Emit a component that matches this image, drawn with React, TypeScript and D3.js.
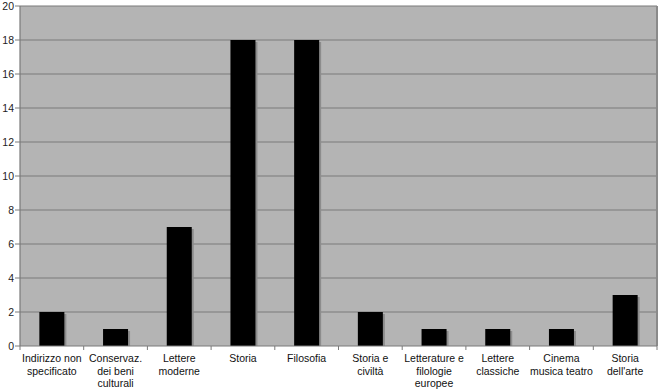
import React from "react";
import * as d3 from "d3";

const categories = [
  ["Indirizzo non", "specificato"],
  ["Conservaz.", "dei beni", "culturali"],
  ["Lettere", "moderne"],
  ["Storia"],
  ["Filosofia"],
  ["Storia e", "civiltà"],
  ["Letterature e", "filologie", "europee"],
  ["Lettere", "classiche"],
  ["Cinema", "musica teatro"],
  ["Storia", "dell'arte"],
];
const values = [2, 1, 7, 18, 18, 2, 1, 1, 1, 3];
const yTicks = [0, 2, 4, 6, 8, 10, 12, 14, 16, 18, 20];

const W = 659;
const H = 390;
const left = 20;
const right = 657;
const top = 6;
const bottom = 346;

export default function App() {
  const x = d3
    .scaleBand<number>()
    .domain(d3.range(values.length))
    .range([left, right])
    .paddingInner(0)
    .paddingOuter(0);
  const y = d3.scaleLinear().domain([0, 20]).range([bottom, top]);
  const bw = 25;
  const font = "'Liberation Sans', Arial, sans-serif";
  return (
    <svg
      width={W}
      height={H}
      style={{ position: "absolute", left: 0, top: 0, background: "#fff" }}
      fontFamily={font}
    >
      <rect x={left} y={top} width={right - left} height={bottom - top} fill="#b4b4b4" />
      {yTicks.map((t) => (
        <g key={t}>
          {t > 0 && (
            <line x1={left} x2={right} y1={y(t)} y2={y(t)} stroke="#7a7a7a" strokeWidth={1.2} />
          )}
          <line x1={left - 5} x2={left} y1={y(t)} y2={y(t)} stroke="#7a7a7a" strokeWidth={1} />
          <text x={14} y={y(t)} dy="0.35em" textAnchor="end" fontSize={10.5} fill="#222">
            {t}
          </text>
        </g>
      ))}
      <line x1={right} x2={right} y1={top} y2={bottom} stroke="#8a8a8a" strokeWidth={2} />
      {values.map((v, i) => {
        const cx = x(i)! + x.bandwidth() / 2;
        return (
          <g key={i}>
            <rect x={cx - bw / 2 + 2} y={y(v) + 2} width={bw} height={bottom - y(v) - 2} fill="#8c8c8c" />
            <rect x={cx - bw / 2} y={y(v)} width={bw} height={bottom - y(v)} fill="#000" />
          </g>
        );
      })}
      <line x1={left} x2={left} y1={top} y2={bottom} stroke="#7a7a7a" strokeWidth={1.2} />
      <line x1={left} x2={right} y1={bottom} y2={bottom} stroke="#7a7a7a" strokeWidth={1.2} />
      {d3.range(values.length + 1).map((i) => {
        const xx = left + i * x.bandwidth();
        return <line key={i} x1={xx} x2={xx} y1={bottom} y2={bottom + 4} stroke="#7a7a7a" />;
      })}
      {categories.map((lines, i) => {
        const cx = x(i)! + x.bandwidth() / 2;
        return (
          <text key={i} textAnchor="middle" fontSize={10.5} fill="#111">
            {lines.map((l, j) => (
              <tspan key={j} x={cx} y={362 + j * 12.5}>
                {l}
              </tspan>
            ))}
          </text>
        );
      })}
    </svg>
  );
}
